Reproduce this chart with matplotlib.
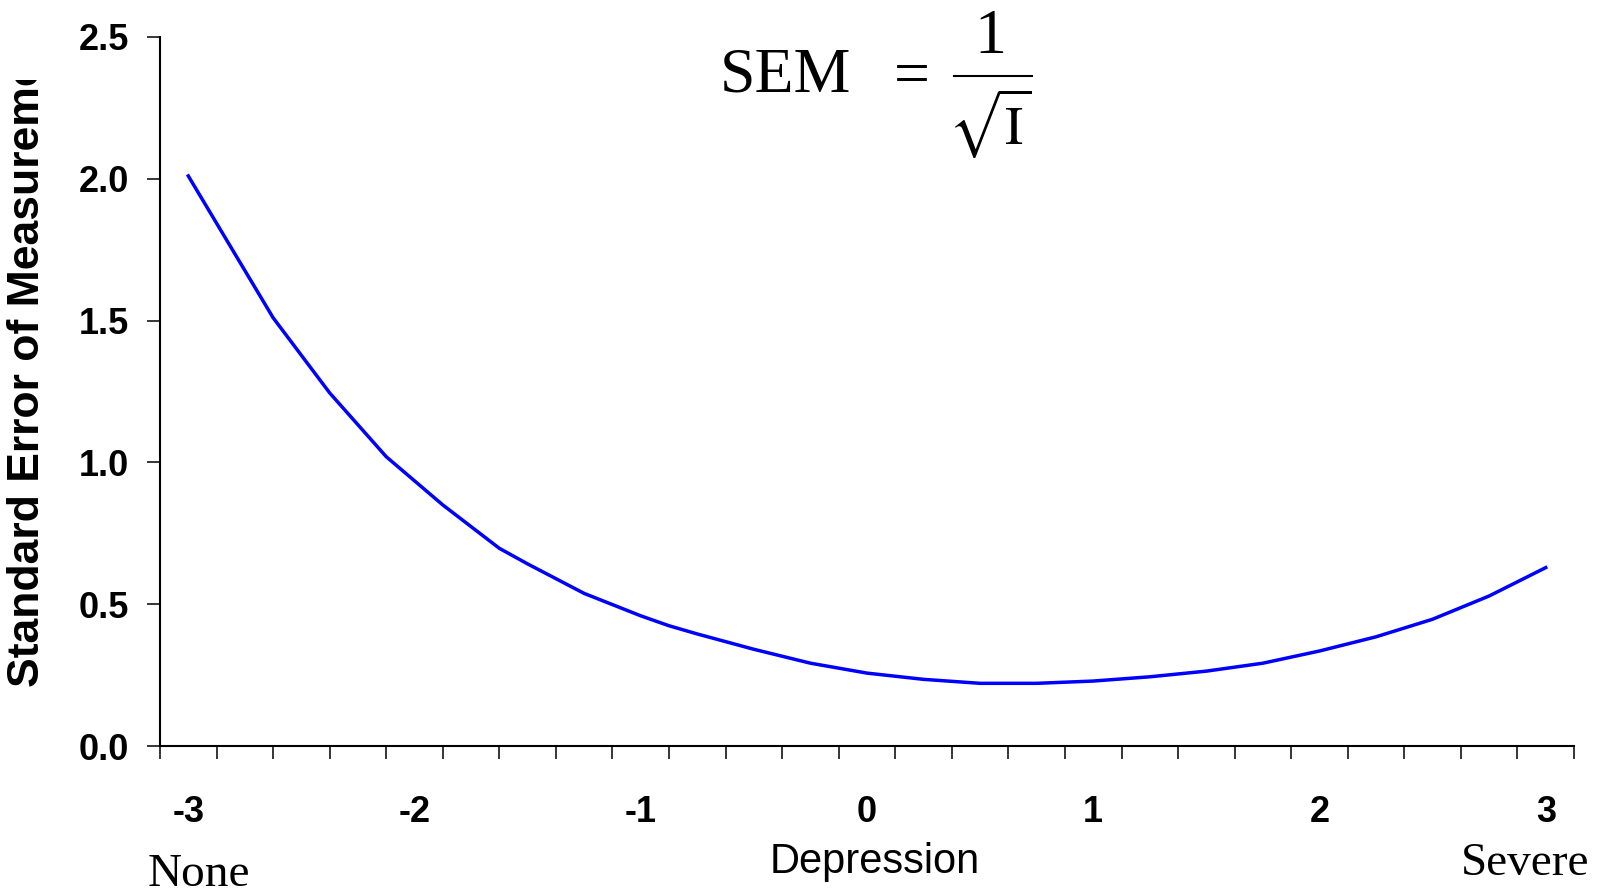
import numpy as np
import matplotlib
matplotlib.use('Agg')
import matplotlib.pyplot as plt
from matplotlib.transforms import Bbox
from matplotlib.lines import Line2D

# SEM curve
theta = [-3.0, -2.625, -2.375, -2.125, -1.875, -1.625, -1.5, -1.25, -1.0, -0.875,
         -0.75, -0.5, -0.25, 0.0, 0.25, 0.5, 0.75, 1.0, 1.25, 1.5,
         1.75, 2.0, 2.25, 2.5, 2.75, 3.0]
sem = [2.01, 1.51, 1.245, 1.02, 0.85, 0.697, 0.642, 0.538, 0.459, 0.424,
       0.395, 0.341, 0.292, 0.257, 0.235, 0.221, 0.221, 0.229, 0.244, 0.264,
       0.292, 0.335, 0.385, 0.447, 0.529, 0.629]

x_labels = [-3, -2, -1, 0, 1, 2, 3]
y_ticks = [0.0, 0.5, 1.0, 1.5, 2.0, 2.5]

W, H = 1603, 892
fig = plt.figure(figsize=(W / 100, H / 100), dpi=100)
ax = fig.add_axes([160 / W, 1 - 746 / H, (1574 - 160) / W, (746 - 37) / H])

ax.plot(theta, sem, color='#0000FF', lw=2.5, solid_joinstyle='miter')

ax.set_xlim(-3.125, 3.125)
ax.set_ylim(0, 2.5)
for s in ['top', 'right']:
    ax.spines[s].set_visible(False)
for s in ['left', 'bottom']:
    ax.spines[s].set_linewidth(1.5)

# category-style x axis: marks between the labels
ax.set_xticks(np.arange(-3.125, 3.126, 0.25), minor=True)
ax.set_xticks(x_labels)
ax.set_xticklabels([str(v) for v in x_labels], fontsize=26, fontweight='bold',
                   family='Liberation Sans')
ax.tick_params(axis='x', which='major', length=0, pad=35)
ax.tick_params(axis='x', which='minor', length=9.5, width=1.1, direction='out')

ax.set_yticks(y_ticks)
ax.set_yticklabels(['%.1f' % v for v in y_ticks], fontsize=26, fontweight='bold',
                   family='Liberation Sans')
ax.tick_params(axis='y', length=9.5, width=1.1, pad=13)

# y label, cut off at the top like the original
yl = fig.text(28 / W, 1 - 687 / H, 'Standard Error of Measurement', rotation=90,
              ha='center', va='bottom', fontsize=32, fontweight='bold',
              family='Liberation Sans')
yl.set_clip_box(Bbox.from_extents(0, 0, 100, H - 80))
yl.set_clip_on(True)

fig.text(875 / W, 1 - 862 / H, 'Depression', ha='center', va='center',
         fontsize=30, family='Liberation Sans')
fig.text(148 / W, 1 - 886 / H, 'None', ha='left', va='baseline',
         fontsize=34, family='Liberation Serif')
fig.text(1525 / W, 1 - 875 / H, 'Severe', ha='center', va='baseline',
         fontsize=34, family='Liberation Serif')

# formula
plt.rcParams['mathtext.fontset'] = 'stix'
fig.text(785 / W, 1 - 76 / H, 'SEM', ha='center', va='center',
         fontsize=46, family='Liberation Serif')
fig.text(912 / W, 1 - 79 / H, '=', ha='center', va='center',
         fontsize=46, family='Liberation Serif')
fig.text(990 / W, 1 - 38 / H, '1', ha='center', va='center',
         fontsize=46, family='Liberation Serif')
fig.add_artist(Line2D([954 / W, 1032 / W], [1 - 76 / H, 1 - 76 / H],
                      transform=fig.transFigure, color='black', lw=1.5))
fig.text(990 / W, 1 - 124 / H, r'$\sqrt{\mathrm{I}}$', ha='center', va='center',
         fontsize=39)

fig.savefig('out.png', dpi=100)
